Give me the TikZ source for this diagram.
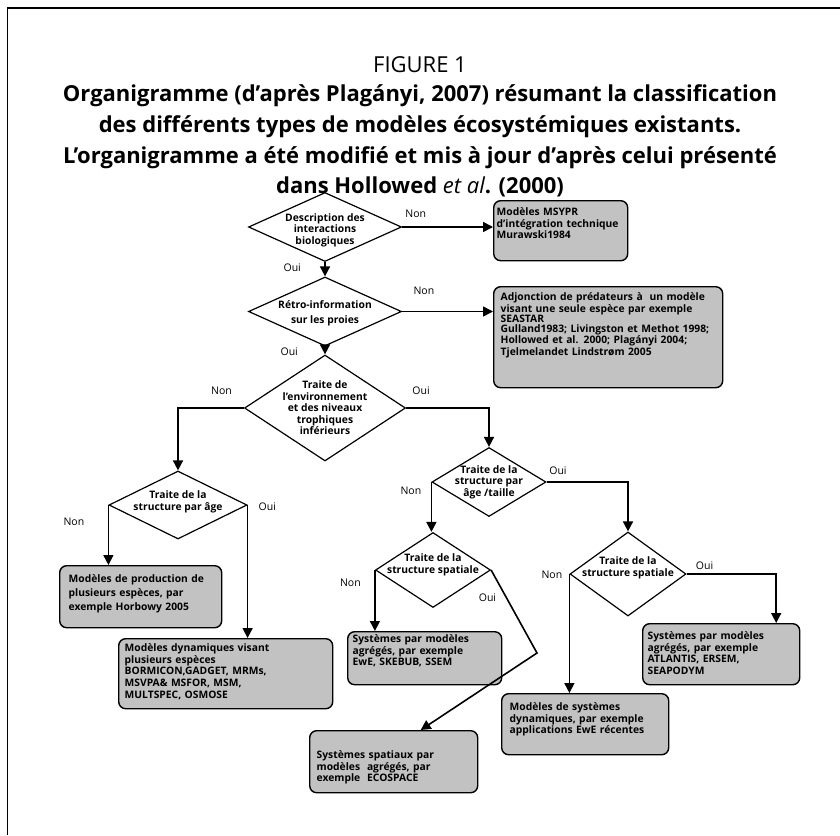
\documentclass[tikz,border=0pt]{standalone}
\usepackage{fontspec}
\setmainfont{Open Sans}
\usetikzlibrary{shapes.geometric,arrows.meta,positioning}
\definecolor{boxgray}{RGB}{194,194,194}
\tikzset{
  decision/.style 2 args={diamond, draw, line width=1.2pt, inner sep=0pt,
    minimum width=#1pt, minimum height=#2pt},
  dtext/.style={font=\bfseries\fontsize{10.3}{11.5}\selectfont, align=center, inner sep=0pt},
  model/.style 2 args={draw, line width=1.4pt, rounded corners=7pt, fill=boxgray,
    anchor=north west, align=left, inner xsep=7pt, inner ysep=3pt,
    font=\bfseries\fontsize{10.3}{11.6}\selectfont, text height=#1pt, text depth=#2pt},
  flow/.style={line width=1.6pt, -{Triangle[length=10pt,width=10pt]}},
  lbl/.style={font=\fontsize{10.5}{12}\selectfont},
}
\begin{document}
\begin{tikzpicture}[x=1pt,y=-1pt]
\useasboundingbox (0,0) rectangle (840,835);
% frame and title
\draw[line width=1.5pt] (7.5,835) -- (7.5,8) -- (840,8);
\node[font=\fontsize{22}{26}\selectfont] (fig) at (420,65) {FIGURE 1};
\node[font=\bfseries\fontsize{22}{30.7}\selectfont, align=center] (title) at (420,141)
  {Organigramme (d’après Plagányi, 2007) résumant la classification\\
   des différents types de modèles écosystémiques existants.\\
   L’organigramme a été modifié et mis à jour d’après celui présenté\\
   dans Hollowed \textmd{\itshape et al}. (2000)};

% decisions
\node[decision={153}{69}, label={[dtext,yshift=-3pt]center:Description des\\interactions\\biologiques}] (d1) at (325,227) {};
\node[decision={153}{69}, label={[dtext,font=\bfseries\fontsize{10.3}{14.5}\selectfont,yshift=-2pt]center:Rétro-information\\sur les proies}] (d2) at (325,311.5) {};
\node[decision={161}{106}, label={[dtext]center:Traite de\\l’environnement\\et des niveaux\\trophiques\\inférieurs}] (d3) at (325,408) {};
\node[decision={138}{68}, label={[dtext,yshift=3pt]center:Traite de la\\structure par âge}] (d4) at (178,505) {};
\node[decision={114}{69}, label={[dtext]center:Traite de la\\structure par\\âge /taille}] (d5) at (489,482) {};
\node[decision={115}{75}, label={[dtext,yshift=5pt]center:Traite de la\\structure spatiale}] (d6) at (433,570) {};
\node[decision={116}{84}, label={[dtext,yshift=6pt]center:Traite de la\\structure spatiale}] (d7) at (628,574) {};

% model boxes
\node[model={12}{42}, text width=128pt, inner xsep=3pt] (b1) at (493,200)
  {Modèles MSYPR\\d’intégration technique\\Murawski1984};
\node[model={11}{84}, text width=215pt,
  font=\bfseries\fontsize{10.3}{10.2}\selectfont] (b2) at (493,286)
  {Adjonction de prédateurs à\ \ un modèle\\visant une seule espèce par exemple\\SEASTAR\\
   Gulland1983; Livingston et Methot 1998;\\Hollowed et al. 2000; Plagányi 2004;\\
   Tjelmelandet Lindstrøm 2005};
\node[model={14}{42}, text width=144pt, inner xsep=9pt,
  font=\bfseries\fontsize{10.3}{13.8}\selectfont] (b3) at (59,565)
  {Modèles de production de\\plusieurs espèces, par\\exemple Horbowy 2005};
\node[model={10}{54}, text width=202pt, inner xsep=6pt] (b4) at (118,638)
  {Modèles dynamiques visant\\plusieurs espèces\\BORMICON,GADGET, MRMs,\\
   MSVPA\& MSFOR, MSM,\\MULTSPEC, OSMOSE};
\node[model={8}{39}, text width=144pt, inner xsep=5pt] (b5) at (347,631)
  {Systèmes par modèles\\agrégés, par exemple\\EwE, SKEBUB, SSEM};
\node[model={25}{31}, text width=154pt] (b6) at (309,730)
  {Systèmes spatiaux par\\modèles\ \ agrégés, par\\exemple\ \ ECOSPACE};
\node[model={14}{41}, text width=151pt, inner xsep=8pt] (b7) at (501,693)
  {Modèles de systèmes\\dynamiques, par exemple\\applications EwE récentes};
\node[model={13}{42}, text width=147pt, inner xsep=5pt] (b8) at (642,623)
  {Systèmes par modèles\\agrégés, par exemple\\ATLANTIS, ERSEM,\\SEAPODYM};
\coordinate (kink) at (537,653);

% connectors
\draw[flow] (d1.east) -- node[lbl,pos=.15,above=5pt]{Non} (d1.east -| b1.west);
\draw[flow] (d2.east) -- node[lbl,pos=.24,above=13pt]{Non} (d2.east -| b2.west);
\draw[flow] (d1.south) -- node[lbl,pos=.4,left=20pt]{Oui} (d2.north);
\draw[flow] (d2.south) -- node[lbl,pos=.67,left=23pt]{Oui} (d3.north);
\draw[flow] (d3.west) -| node[lbl,pos=.17,above=9pt]{Non} (d4.north);
\draw[flow] (d3.east) -| node[lbl,pos=.09,above=9pt]{Oui} (d5.north);
\draw[flow] (d4.west) -- node[lbl,pos=.28,left=20pt]{Non} (d4.west |- b3.north);
\draw[flow] (d4.east) -- node[lbl,pos=.01,right=7pt]{Oui} (d4.east |- b4.north);
\draw[flow] (d5.west) -- node[lbl,pos=.18,left=6pt]{Non} (d5.west |- d6.north);
\draw[flow] (d5.east) -| node[lbl,pos=.07,above=3pt]{Oui} (d7.north);
\draw[flow] (d6.west) -- node[lbl,pos=.21,left=10pt]{Non} (d6.west |- b5.north);
\draw[flow] (d6.east) -- node[lbl,pos=.33,left=6pt]{Oui} (kink) -- ([xshift=27pt]b6.north);
\draw[flow] (d7.west) -- node[lbl,pos=.01,left=3pt]{Non} (d7.west |- b7.north);
\draw[flow] (d7.east) -| node[lbl,pos=.1,above=0pt]{Oui} ([xshift=55pt]b8.north);
\end{tikzpicture}
\end{document}
